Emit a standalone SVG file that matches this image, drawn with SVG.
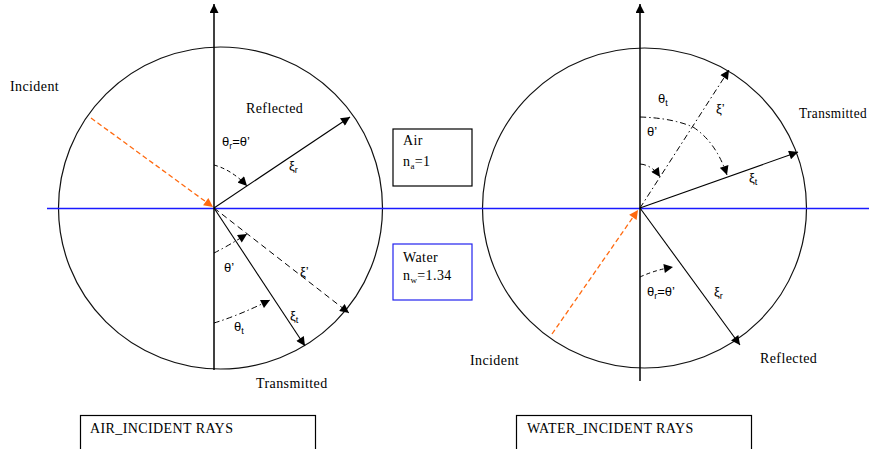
<svg xmlns="http://www.w3.org/2000/svg" width="869" height="449" viewBox="0 0 869 449">
<defs>
<style>
.txt{font-family:"Liberation Serif","Times New Roman",serif;font-size:14px;letter-spacing:0.4px;fill:#000}
.gr{font-family:"Liberation Sans","DejaVu Sans",sans-serif;font-size:13px;fill:#000}
.sub{font-size:9px}
.circ{fill:none;stroke:#111;stroke-width:1.2}
.axis{stroke:#000;stroke-width:1.5;fill:none;marker-end:url(#ah)}
.ray{stroke:#000;stroke-width:1.1;fill:none;marker-end:url(#ah)}
.dash{stroke:#000;stroke-width:1;fill:none;stroke-dasharray:6,4;marker-end:url(#ah)}
.sdash{stroke:#000;stroke-width:1;fill:none;stroke-dasharray:4,3;marker-end:url(#ah)}
.dd{stroke:#000;stroke-width:1;fill:none;stroke-dasharray:6,3,1.5,3;marker-end:url(#ah)}
.inc{stroke:#ff6a10;stroke-width:1.3;fill:none;stroke-dasharray:5,3;marker-end:url(#aho)}
.water{stroke:#1a1aff;stroke-width:1.3;fill:none}
.box{fill:#fff;stroke:#000;stroke-width:1.2}
.wbox{fill:#fff;stroke:#2222ee;stroke-width:1.2}
</style>
<marker id="ah" viewBox="0 0 10 10" refX="10" refY="5" markerWidth="10" markerHeight="9" markerUnits="userSpaceOnUse" orient="auto">
<path d="M0,0 L10,5 L0,10 z" fill="#000"/>
</marker>
<marker id="aho" viewBox="0 0 10 10" refX="10" refY="5" markerWidth="10" markerHeight="9" markerUnits="userSpaceOnUse" orient="auto">
<path d="M0,0 L10,5 L0,10 z" fill="#ff6a10"/>
</marker>
</defs>
<rect width="869" height="449" fill="#fff"/>

<g id="left-circle"><ellipse class="circ" cx="220.5" cy="208" rx="162" ry="161"/></g>
<g id="right-circle"><ellipse class="circ" cx="644.5" cy="208" rx="162" ry="160"/></g>

<g id="connectors">
<line class="water" x1="47" y1="208.5" x2="869" y2="208.5"/>
<line class="axis" x1="214" y1="370" x2="214" y2="4"/>
<line class="axis" x1="640" y1="381" x2="640" y2="4"/>
<!-- left diagram -->
<line class="inc" x1="91" y1="118" x2="213" y2="207"/>
<line class="ray" x1="214" y1="208" x2="350" y2="117"/>
<path class="sdash" d="M214,165 Q232,170 247,186"/>
<line class="ray" x1="214" y1="208" x2="305" y2="346"/>
<line class="dash" x1="214" y1="208" x2="349" y2="313"/>
<path class="dd" d="M214,253 Q228,246 247,234"/>
<path class="dd" d="M214,323 Q240,315 270,300"/>
<!-- right diagram -->
<line class="inc" x1="552" y1="334" x2="638" y2="210"/>
<line class="ray" x1="640" y1="208" x2="740" y2="345"/>
<path class="sdash" d="M640,277 Q655,270 673,267"/>
<line class="ray" x1="640" y1="208" x2="798" y2="152"/>
<line class="dd" x1="640" y1="208" x2="729" y2="70"/>
<path class="dd" d="M640,164 Q652,165 660,177"/>
<path class="dd" d="M640,117 Q672,118 693,127 Q716,142 727,175"/>
</g>

<g id="labels-left">
<text class="txt" x="10" y="91">Incident</text>
<text class="txt" x="246" y="113">Reflected</text>
<text class="txt" x="256" y="388">Transmitted</text>
<text class="gr" x="222" y="146">θ<tspan class="sub" dy="3">r</tspan><tspan dy="-3">=θ’</tspan></text>
<text class="gr" x="289" y="170">ξ<tspan class="sub" dy="3">r</tspan></text>
<text class="gr" x="224" y="272">θ’</text>
<text class="gr" x="234" y="331">θ<tspan class="sub" dy="3">t</tspan></text>
<text class="gr" x="300" y="276">ξ’</text>
<text class="gr" x="290" y="320">ξ<tspan class="sub" dy="3">t</tspan></text>
</g>

<g id="air-box">
<rect class="box" x="393" y="129" width="79" height="57"/>
<text class="txt" x="403" y="145">Air</text>
<text class="txt" x="403" y="166">n<tspan class="sub" dy="3">a</tspan><tspan dy="-3">=1</tspan></text>
</g>
<g id="water-box">
<rect class="wbox" x="393" y="244" width="79" height="56"/>
<text class="txt" x="403" y="262">Water</text>
<text class="txt" x="403" y="280">n<tspan class="sub" dy="3">w</tspan><tspan dy="-3">=1.34</tspan></text>
</g>

<g id="labels-right">
<text class="txt" x="470" y="365">Incident</text>
<text class="txt" x="760" y="363">Reflected</text>
<text class="txt" x="799" y="118" textLength="68" lengthAdjust="spacingAndGlyphs">Transmitted</text>
<text class="gr" x="658" y="103">θ<tspan class="sub" dy="3">t</tspan></text>
<text class="gr" x="647" y="136">θ’</text>
<text class="gr" x="716" y="113">ξ’</text>
<text class="gr" x="749" y="182">ξ<tspan class="sub" dy="3">t</tspan></text>
<text class="gr" x="647" y="296">θ<tspan class="sub" dy="3">r</tspan><tspan dy="-3">=θ’</tspan></text>
<text class="gr" x="714" y="296">ξ<tspan class="sub" dy="3">r</tspan></text>
</g>

<g id="air-incident-box">
<rect class="box" x="80.5" y="415.5" width="235" height="50"/>
<text class="txt" x="90" y="433">AIR_INCIDENT RAYS</text>
</g>
<g id="water-incident-box">
<rect class="box" x="516.5" y="415.5" width="235" height="50"/>
<text class="txt" x="527" y="433">WATER_INCIDENT RAYS</text>
</g>
</svg>
